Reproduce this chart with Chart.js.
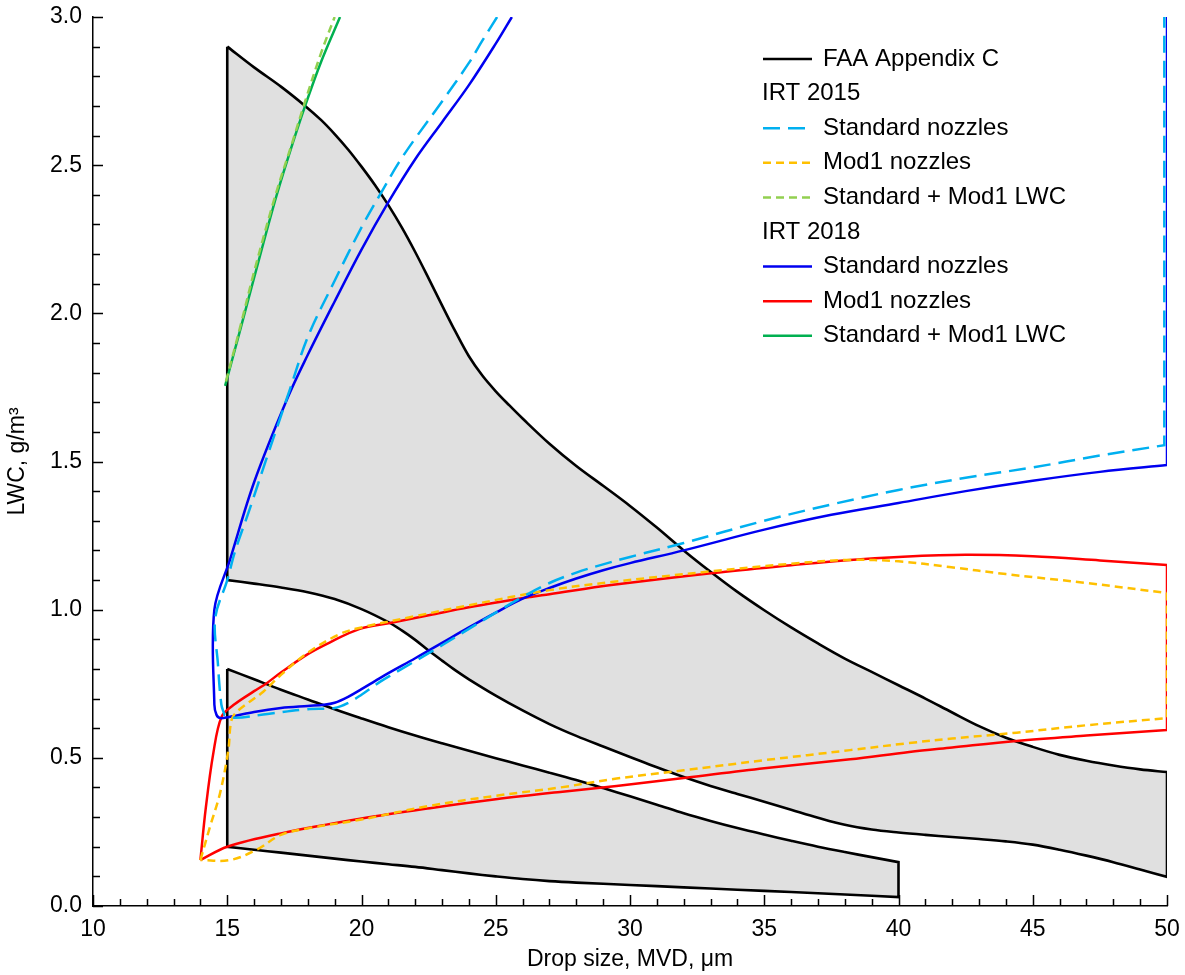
<!DOCTYPE html>
<html>
<head>
<meta charset="utf-8">
<title>IRT spray envelopes vs FAA Appendix C</title>
<script src="https://cdn.jsdelivr.net/npm/chart.js@4.4.1/dist/chart.umd.min.js"></script>
<style>
  html, body { margin: 0; padding: 0; background: #fff; }
  #wrap { width: 1185px; height: 975px; position: relative; }
</style>
</head>
<body>
<div id="wrap"><canvas id="lwcChart"></canvas></div>
<script>
// axis ranges and tick labels
const xRange = [10, 50];
const yRange = [0, 3];
const xTickStep = 5;
const yTickStep = 0.5;

// FAA Appendix C envelopes, closed outlines [MVD, LWC]
const faaIntermittent = [
  [15, 2.9], [16, 2.83], [17, 2.765], [17.9, 2.70], [18.5, 2.652], [19, 2.605], [19.5, 2.553],
  [20, 2.495], [20.5, 2.433], [21, 2.365], [21.5, 2.29], [22, 2.207], [22.5, 2.118], [23, 2.027],
  [23.5, 1.938], [24, 1.855], [24.5, 1.79], [25, 1.737], [25.5, 1.69], [26, 1.645], [27, 1.56],
  [28, 1.485], [29, 1.418], [30, 1.35], [31, 1.277], [32, 1.20], [33, 1.128], [34, 1.06],
  [35, 0.998], [36, 0.94], [37, 0.886], [38, 0.835], [39, 0.79], [40, 0.745], [41, 0.70],
  [42, 0.653], [43, 0.607], [44, 0.568], [45, 0.537], [46, 0.51], [47, 0.49], [48, 0.474],
  [49, 0.461], [50, 0.452],
  [50, 0.098], [49, 0.123], [48, 0.148], [47, 0.17], [46, 0.19], [45, 0.207], [44, 0.218],
  [43, 0.226], [42, 0.233], [41, 0.24], [40, 0.248], [39, 0.258], [38, 0.274], [37, 0.298],
  [36, 0.325], [35, 0.352], [34, 0.378], [33, 0.405], [32, 0.435], [31, 0.468], [30, 0.503],
  [29, 0.538], [28, 0.574], [27, 0.614], [26, 0.66], [25, 0.71], [24, 0.765], [23.5, 0.795],
  [23, 0.828], [22.5, 0.862], [22, 0.898], [21.5, 0.93], [21, 0.958], [20, 1.002], [19, 1.036],
  [18, 1.059], [17, 1.075], [16, 1.088], [15, 1.1], [15, 2.9]
];
const faaContinuous = [
  [15, 0.8], [16, 0.765], [17, 0.73], [18, 0.697], [19, 0.664], [20, 0.633], [21, 0.603],
  [22, 0.575], [23, 0.549], [24, 0.524], [25, 0.499], [26, 0.474], [27, 0.45], [28, 0.425],
  [29, 0.398], [30, 0.37], [31, 0.342], [32, 0.313], [33, 0.287], [34, 0.263], [35, 0.241],
  [36, 0.22], [37, 0.2], [38, 0.182], [39, 0.165], [40, 0.148],
  [40, 0.03], [38, 0.039], [36, 0.047], [34, 0.055], [32, 0.063], [30, 0.071], [28, 0.079],
  [27, 0.084], [26, 0.091], [25, 0.1], [24, 0.11], [23, 0.121], [22, 0.132], [21, 0.141],
  [20, 0.15], [19, 0.16], [18, 0.17], [17, 0.18], [16, 0.19], [15, 0.2], [15, 0.8]
];

// IRT 2015 calibration envelopes
const std2015 = [
  [25.05, 3.0], [24.5, 2.92], [24, 2.845], [23, 2.715], [22, 2.59], [21.4, 2.51], [20.75, 2.41],
  [20, 2.29], [19, 2.11], [18, 1.92], [17.34, 1.745], [16.5, 1.52], [15.8, 1.33], [15.3, 1.2],
  [15, 1.1], [14.55, 0.97], [14.65, 0.82], [14.78, 0.68], [14.9, 0.645], [15.3, 0.635],
  [16.5, 0.648], [18, 0.664], [19, 0.668], [19.5, 0.685], [20, 0.713], [20.7, 0.757], [21.5, 0.80],
  [22.44, 0.85], [23, 0.88], [24, 0.935], [25, 0.99], [26, 1.043], [27, 1.09], [28, 1.125],
  [29, 1.153], [30, 1.178], [32, 1.225], [35, 1.30], [37.5, 1.355], [40, 1.404], [42.5, 1.445],
  [45, 1.48], [47.5, 1.52], [49.9, 1.555], [49.9, 3.0]
];
const mod2015 = [
  [14, 0.155], [14.36, 0.268], [14.73, 0.38], [15.04, 0.526], [15.16, 0.628], [15.41, 0.66],
  [16.34, 0.723], [17, 0.78], [18, 0.855], [19.2, 0.918], [20, 0.94], [22, 0.978], [24, 1.015],
  [27, 1.066], [29.3, 1.093], [33.1, 1.13], [36, 1.155], [38.2, 1.168], [40, 1.163], [41.9, 1.144],
  [44, 1.12], [47, 1.09], [50, 1.056], [50, 0.634], [47, 0.61], [44.4, 0.585], [42, 0.565],
  [40.4, 0.55], [38.2, 0.526], [35, 0.492], [32, 0.458], [29.5, 0.43], [27.4, 0.40], [25, 0.372],
  [22.55, 0.338], [20, 0.292], [18, 0.262], [17, 0.24], [16.1, 0.19], [15.1, 0.155], [14, 0.155]
];
const combo2015 = [
  [14.95, 1.77], [15.5, 1.96], [16, 2.14], [16.8, 2.40], [17.4, 2.57], [17.9, 2.715], [18.5, 2.88], [19.0, 3.0]
];

// IRT 2018 calibration envelopes
const std2018 = [
  [25.6, 3.0], [25, 2.91], [24, 2.77], [23, 2.645], [22, 2.52], [21, 2.375], [20, 2.215], [19, 2.04],
  [18, 1.86], [17.25, 1.715], [16, 1.43], [15.1, 1.168], [14.52, 1.0], [14.52, 0.68], [14.6, 0.645],
  [14.75, 0.634], [15.2, 0.64], [16, 0.655], [17, 0.668], [18, 0.675], [18.6, 0.679], [19, 0.686],
  [19.5, 0.706], [20, 0.732], [20.5, 0.759], [21, 0.786], [22, 0.836], [23, 0.888], [24, 0.94],
  [25, 0.99], [26, 1.037], [27, 1.073], [28, 1.105], [29, 1.133], [30, 1.157], [32, 1.20],
  [35, 1.27], [37.5, 1.32], [40, 1.36], [42.5, 1.40], [45, 1.435], [47.5, 1.465], [50, 1.488],
  [50, 3.0]
];
const mod2018 = [
  [14, 0.155], [14.2, 0.33], [14.48, 0.515], [14.79, 0.639], [15.23, 0.678], [16, 0.725],
  [16.47, 0.752], [17, 0.788], [18, 0.85], [18.83, 0.89], [19.94, 0.935], [21.06, 0.955],
  [22.55, 0.982], [24, 1.008], [26.3, 1.043], [27, 1.052], [29.3, 1.083], [33.1, 1.124], [36, 1.15],
  [38.2, 1.168], [40, 1.178], [42.5, 1.185], [45, 1.18], [47.5, 1.166], [50, 1.151], [50, 0.594],
  [47, 0.575], [44.4, 0.557], [42, 0.535], [40.4, 0.52], [38.2, 0.495], [35, 0.465], [32, 0.432],
  [29.5, 0.405], [27.4, 0.385], [25, 0.36], [22.55, 0.33], [20, 0.295], [17, 0.245], [15, 0.2],
  [14, 0.155]
];
const combo2018 = [
  [14.92, 1.755], [15.5, 1.95], [16, 2.12], [16.78, 2.38], [17.3, 2.535], [17.9, 2.70], [18.5, 2.85], [19.2, 3.0]
];

const FONT = "Arial, 'Liberation Sans', sans-serif";

// turn [x, y] pairs into points; sharp corners are doubled so the smoothing keeps them square
function toPoints(pairs) {
  const out = [];
  pairs.forEach((p, i) => {
    out.push({ x: p[0], y: p[1] });
    const a = pairs[i - 1], b = pairs[i + 1];
    if (a && b) {
      const ux = (p[0] - a[0]) * 27, uy = (p[1] - a[1]) * 296;
      const vx = (b[0] - p[0]) * 27, vy = (b[1] - p[1]) * 296;
      const cos = (ux * vx + uy * vy) / (Math.hypot(ux, uy) * Math.hypot(vx, vy) || 1);
      if (cos < 0.6) out.push({ x: p[0], y: p[1] });
    }
  });
  return out;
}

function curve(key, label, pairs, color, extra) {
  return Object.assign({
    key, label,
    data: toPoints(pairs),
    borderColor: color,
    backgroundColor: color,
    borderWidth: 2.5,
    pointRadius: 0,
    pointHoverRadius: 0,
    showLine: true,
    tension: 0.35,
    fill: false
  }, extra);
}

const faaStyle = { backgroundColor: '#e0e0e0', borderWidth: 2.6, fill: 'shape', order: 3 };

const datasets = [
  curve('faa', 'FAA Appendix C', faaIntermittent, '#000000', faaStyle),
  curve('faa2', 'FAA Appendix C', faaContinuous, '#000000', faaStyle),
  curve('std2015', 'Standard nozzles', std2015, '#00b0f0', { borderDash: [17, 8], order: 1 }),
  curve('mod2015', 'Mod1 nozzles', mod2015, '#ffc000', { borderDash: [8, 5], order: 1 }),
  curve('combo2015', 'Standard + Mod1 LWC', combo2015, '#92d050', { borderDash: [8, 5], order: 1 }),
  curve('std2018', 'Standard nozzles', std2018, '#0000f0', { order: 2 }),
  curve('mod2018', 'Mod1 nozzles', mod2018, '#ff0000', { order: 2 }),
  curve('combo2018', 'Standard + Mod1 LWC', combo2018, '#00b050', { order: 2 })
];

const legendRows = [
  { text: 'FAA Appendix C', key: 'faa' },
  { text: 'IRT 2015' },
  { text: 'Standard nozzles', key: 'std2015' },
  { text: 'Mod1 nozzles', key: 'mod2015' },
  { text: 'Standard + Mod1 LWC', key: 'combo2015' },
  { text: 'IRT 2018' },
  { text: 'Standard nozzles', key: 'std2018' },
  { text: 'Mod1 nozzles', key: 'mod2018' },
  { text: 'Standard + Mod1 LWC', key: 'combo2018' }
];

// legend sits inside the plot, top right
const insideLegend = {
  id: 'insideLegend',
  afterDraw(chart) {
    const ctx = chart.ctx;
    ctx.save();
    ctx.font = '24px ' + FONT;
    ctx.textBaseline = 'middle';
    ctx.fillStyle = '#000';
    legendRows.forEach((row, i) => {
      const y = 59 + i * 34.6;
      if (!row.key) {
        ctx.fillText(row.text, 762, y);
        return;
      }
      const ds = chart.data.datasets.find(d => d.key === row.key);
      ctx.strokeStyle = ds.borderColor;
      ctx.lineWidth = ds.borderWidth;
      ctx.setLineDash(ds.borderDash || []);
      ctx.beginPath();
      ctx.moveTo(763, y);
      ctx.lineTo(812, y);
      ctx.stroke();
      ctx.setLineDash([]);
      ctx.fillText(row.text, 823, y);
    });
    ctx.restore();
  }
};

// inward major and minor tick marks
const inwardTicks = {
  id: 'inwardTicks',
  afterDatasetsDraw(chart) {
    const { ctx, chartArea, scales } = chart;
    ctx.save();
    ctx.strokeStyle = '#000';
    ctx.lineWidth = 1.5;
    ctx.beginPath();
    for (let v = xRange[0]; v <= xRange[1]; v++) {
      const px = Math.round(scales.x.getPixelForValue(v)) + 0.5;
      const len = v % xTickStep === 0 ? 11 : 7;
      ctx.moveTo(px, chartArea.bottom);
      ctx.lineTo(px, chartArea.bottom - len);
    }
    for (let k = 0; k <= 30; k++) {
      const v = k / 10;
      const py = Math.round(scales.y.getPixelForValue(v)) + 0.5;
      const len = k % 5 === 0 ? 10 : 7;
      ctx.moveTo(chartArea.left, py);
      ctx.lineTo(chartArea.left + len, py);
    }
    ctx.stroke();
    ctx.restore();
  }
};

new Chart(document.getElementById('lwcChart'), {
  type: 'scatter',
  data: { datasets },
  plugins: [inwardTicks, insideLegend],
  options: {
    responsive: true,
    maintainAspectRatio: false,
    animation: false,
    layout: { padding: { top: 17, right: 18, left: 0, bottom: 0 } },
    plugins: {
      legend: { display: false },
      tooltip: { enabled: false }
    },
    scales: {
      x: {
        type: 'linear',
        min: xRange[0],
        max: xRange[1],
        afterFit(scale) {
          scale.height = 69;
          scale.paddingLeft = 0;
          scale.paddingRight = 0;
        },
        grid: { display: false, drawTicks: false },
        border: { display: true, color: '#000', width: 1.5 },
        ticks: {
          stepSize: xTickStep,
          padding: 10,
          color: '#000',
          font: { family: FONT, size: 23 },
          callback: v => String(v)
        },
        title: {
          display: true,
          text: 'Drop size, MVD, μm',
          color: '#000',
          font: { family: FONT, size: 23 },
          padding: { top: 0, bottom: 2 }
        }
      },
      y: {
        type: 'linear',
        min: yRange[0],
        max: yRange[1],
        afterFit(scale) {
          scale.width = 93;
          scale.paddingTop = 0;
          scale.paddingBottom = 0;
        },
        grid: { display: false, drawTicks: false },
        border: { display: true, color: '#000', width: 1.5 },
        ticks: {
          stepSize: yTickStep,
          padding: 11,
          color: '#000',
          font: { family: FONT, size: 23 },
          callback: v => v.toFixed(1)
        },
        title: {
          display: true,
          text: 'LWC, g/m³',
          color: '#000',
          font: { family: FONT, size: 23 },
          padding: { top: 4, bottom: 0 }
        }
      }
    }
  }
});
</script>
</body>
</html>
